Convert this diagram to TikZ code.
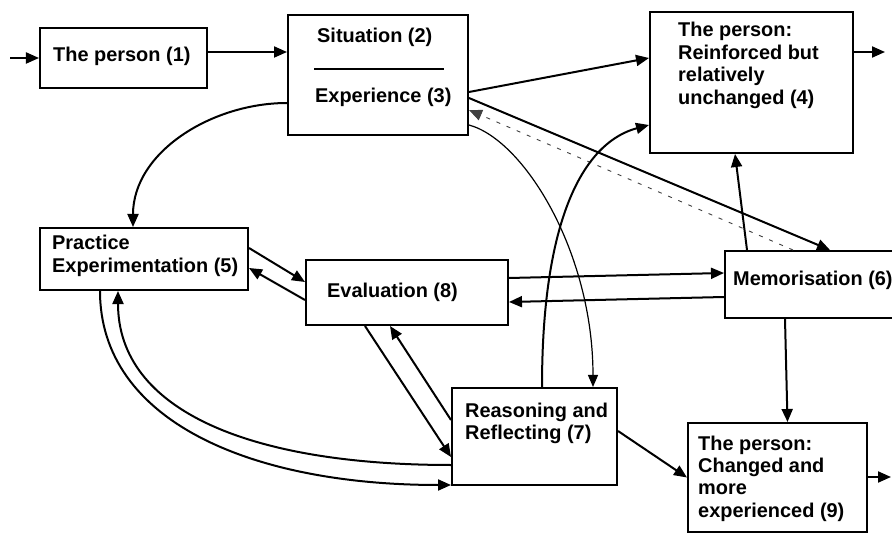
\documentclass[tikz,border=0pt]{standalone}
\usepackage{fontspec}
\setmainfont{Liberation Sans}
\usetikzlibrary{arrows.meta}
\newcommand\mylines[1]{\begin{tabular}[t]{@{}l@{}}#1\end{tabular}}
\begin{document}
\begin{tikzpicture}[x=1bp,y=-1bp,
  box/.style={draw=black,line width=2bp,rectangle,inner sep=0pt},
  txt/.style={inner sep=0pt,anchor=base west,font=\fontsize{20}{22.5}\selectfont\bfseries},
  arr/.style={line width=2bp,-{Triangle[length=13bp,width=11bp]}},
  thinarr/.style={line width=1.2bp,-{Triangle[length=12bp,width=10bp]}},
  dasharr/.style={line width=0.9bp,dash pattern=on 4bp off 7bp,black!75,-{Triangle[length=13bp,width=11bp]}}]
\clip (0,0) rectangle (892,534);
\fill[white] (0,0) rectangle (892,534);
% boxes
\node[box,minimum width=167bp,minimum height=60bp] (b1) at (123.5,58) {};
\node[box,minimum width=180bp,minimum height=120bp] (b2) at (378,75) {};
\node[box,minimum width=203bp,minimum height=141bp] (b4) at (751.5,82.5) {};
\node[box,minimum width=208bp,minimum height=62bp] (b5) at (144,259) {};
\node[box,minimum width=202bp,minimum height=65bp] (b8) at (407,292.5) {};
\node[box,minimum width=235bp,minimum height=67bp] (b6) at (842.5,284.5) {};
\node[box,minimum width=165bp,minimum height=97bp] (b7) at (534.5,436.5) {};
\node[box,minimum width=179bp,minimum height=109bp] (b9) at (777.5,477.5) {};
% texts
\node[txt] (t1) at (53,62) {The person (1)};
\node[txt] (t2a) at (317,43) {Situation (2)};
\node[txt] (t2b) at (315,103) {Experience (3)};
\node[txt] (t4) at (678,37) {\mylines{The person:\\Reinforced but\\relatively\\unchanged (4)}};
\node[txt] (t5) at (52,250) {\mylines{Practice\\Experimentation (5)}};
\node[txt] (t8) at (327,298) {Evaluation (8)};
\node[txt] (t6) at (733,286) {Memorisation (6)};
\node[txt] (t7) at (465,417) {\mylines{Reasoning and\\Reflecting (7)}};
\node[txt] (t9) at (698,450) {\mylines{The person:\\Changed and\\more\\experienced (9)}};
% divider in box 2
\draw[line width=1.6bp] ([xshift=27bp,yshift=-55bp]b2.north west) -- ([xshift=-25bp,yshift=-55bp]b2.north east);
% free ends
\coordinate (in1) at (10,58);
\coordinate (o4) at (885,52);
\coordinate (o9) at (891,477);
% connectors
\draw[arr] (in1) -- (b1.west);
\draw[arr] ([yshift=6bp]b1.east) -- ([yshift=6bp]b1.east -| b2.west);
\draw[arr] ([yshift=-17bp]b2.east) -- ([yshift=24.5bp]b4.west);
\draw[arr] (b4.east |- o4) -- (o4);
\draw[arr] ([yshift=-28bp]b2.west) .. controls +(-75,0) and +(0,-75) .. ([xshift=-11bp]b5.north);
\draw[arr] ([yshift=-23bp]b2.east) -- ([xshift=-12.5bp]b6.north);
\draw[dasharr] ([xshift=-49.5bp]b6.north) -- ([yshift=-35bp]b2.east);
\draw[arr] ([xshift=-95.5bp]b6.north) -- ([xshift=-16.5bp]b4.south);
\draw[arr] ([yshift=11bp]b5.east) -- ([yshift=10.5bp]b8.west);
\draw[arr] ([yshift=-7.5bp]b8.west) -- ([yshift=-9bp]b5.east);
\draw[arr] ([yshift=14.5bp]b8.east) -- ([yshift=11.5bp]b6.west);
\draw[arr] ([yshift=-12.5bp]b6.west) -- ([yshift=-9.5bp]b8.east);
\draw[arr] ([xshift=-42bp]b8.south) -- ([yshift=-20.5bp]b7.west);
\draw[arr] ([yshift=16.5bp]b7.west) -- ([xshift=-17bp]b8.south);
\draw[arr] ([yshift=-28.5bp]b7.west) .. controls +(-200,0) and +(0,120) .. ([xshift=-26bp]b5.south);
\draw[arr] ([xshift=-44bp]b5.south) .. controls +(0,130) and +(-200,0) .. ([yshift=1bp]b7.south west);
\draw[arr] ([xshift=7.5bp]b7.north) .. controls +(0,-180) and +(-60,16) .. ([yshift=-42.5bp]b4.west);
\draw[thinarr] ([yshift=-50bp]b2.east) .. controls +(55,15) and +(0,-135) .. ([xshift=58.5bp]b7.north);
\draw[arr] ([yshift=5.5bp]b7.east) -- (b9.west);
\draw[arr] ([xshift=-57.5bp]b6.south) -- ([xshift=10bp]b9.north);
\draw[arr] (b9.east |- o9) -- (o9);
\end{tikzpicture}
\end{document}
